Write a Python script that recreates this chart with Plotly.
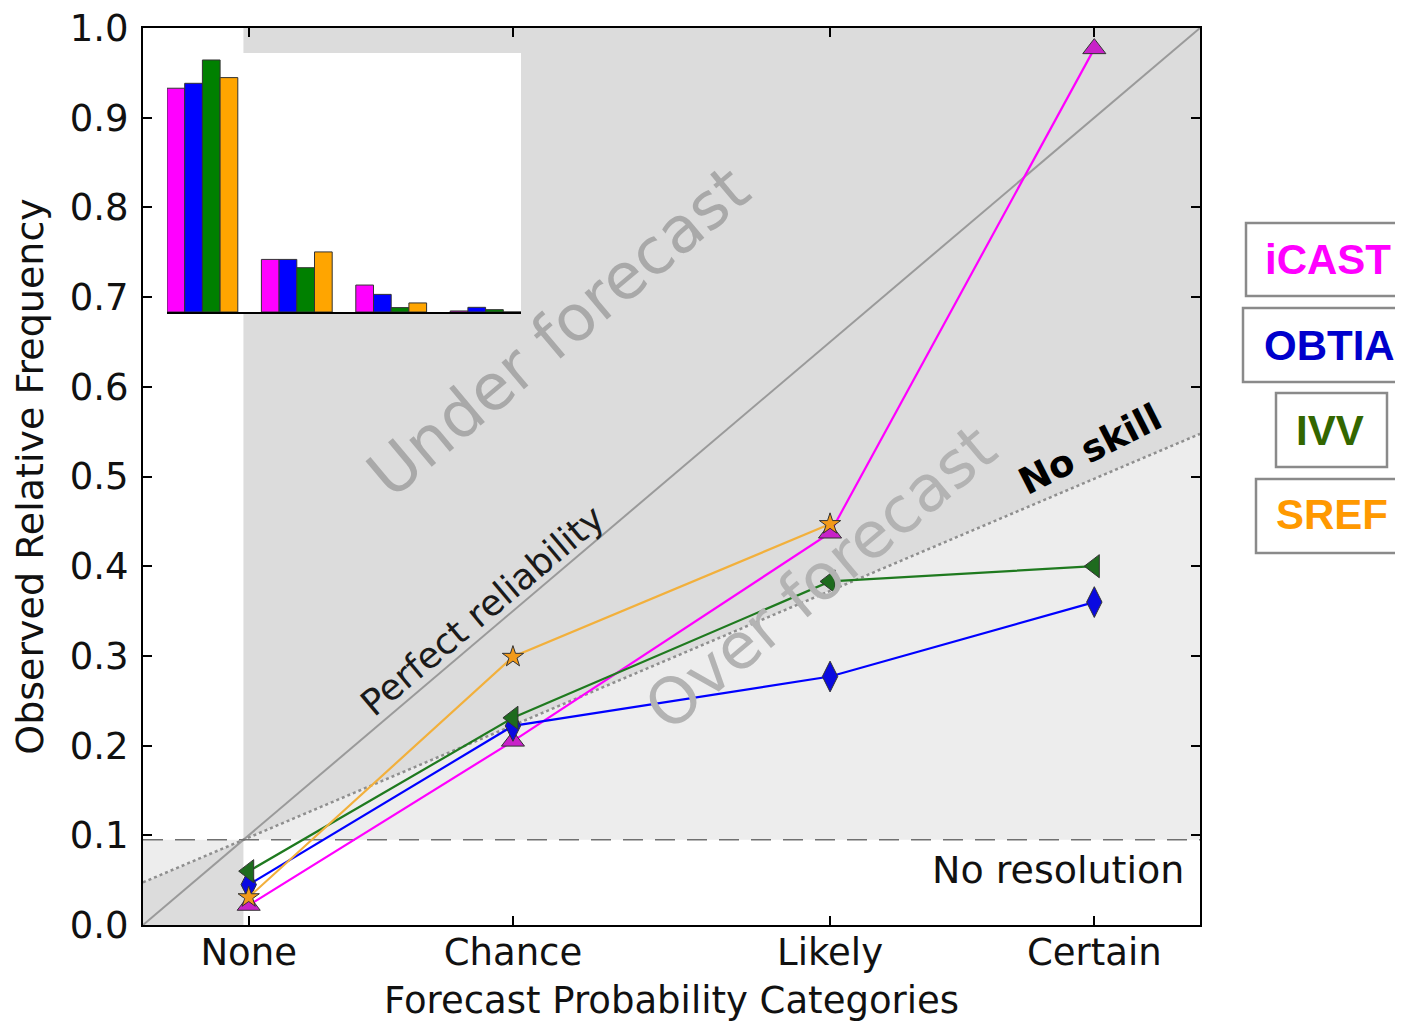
import plotly.graph_objects as go

# ---------------- data ----------------
categories = ["None", "Chance", "Likely", "Certain"]
fcst_prob = [0.1, 0.35, 0.65, 0.9]
climatology = 0.095

models = ["iCAST", "OBTIA", "IVV", "SREF"]
icast_obs = [0.022, 0.205, 0.437, 0.977]
obtia_obs = [0.045, 0.222, 0.277, 0.360]
ivv_obs = [0.060, 0.231, 0.383, 0.400]
sref_obs = [0.031, 0.299, 0.447, None]

# inset: relative frequency of forecasts in each category
icast_freq = [0.864, 0.203, 0.104, 0.004]
obtia_freq = [0.883, 0.203, 0.068, 0.018]
ivv_freq = [0.973, 0.171, 0.017, 0.009]
sref_freq = [0.905, 0.232, 0.035, 0.0]

# ---------------- layout helpers ----------------
OFF = 8  # page body margin in the browser
W, H = 1403 - OFF, 1022 - OFF
L, R, T, B = 143, 1200, 28, 925  # plot area in window pixels


def px_x(p):
    return (p - L) / (R - L)


def px_y(p):
    return (B - p) / (B - T)


FONT = "DejaVu Sans"
line_colors = ["#ff00ff", "#0000ff", "#1f7a1f", "#f2b03c"]
marker_colors = ["#c822c8", "#0a0ae0", "#1e6b1e", "#f29a1a"]
symbols = ["triangle-up", "diamond-tall", "triangle-left", "star"]
msizes = [20, 22, 20, 16]
bar_colors = ["#ff00ff", "#0000ff", "#008000", "#ffa500"]
obs_all = [icast_obs, obtia_obs, ivv_obs, sref_obs]
freq_all = [icast_freq, obtia_freq, ivv_freq, sref_freq]

fig = go.Figure()

# reference lines
nos0 = climatology / 2
nos1 = (1 + climatology) / 2
fig.add_trace(go.Scatter(x=[0, 1], y=[0, 1], mode="lines",
                         line=dict(color="#9a9a9a", width=2), showlegend=False, hoverinfo="skip"))
fig.add_trace(go.Scatter(x=[0, 1], y=[nos0, nos1], mode="lines",
                         line=dict(color="#8f8f8f", width=2.5, dash="dot"), showlegend=False, hoverinfo="skip"))
fig.add_trace(go.Scatter(x=[0, 1], y=[climatology, climatology], mode="lines",
                         line=dict(color="#707070", width=1.5, dash="20px,12px"), showlegend=False, hoverinfo="skip"))

for i, name in enumerate(models):
    fig.add_trace(go.Scatter(
        x=fcst_prob, y=obs_all[i], mode="lines+markers", name=name,
        line=dict(color=line_colors[i], width=2.2),
        marker=dict(symbol=symbols[i], size=msizes[i], color=marker_colors[i],
                    line=dict(color="#333333", width=1)),
        showlegend=False, connectgaps=False))

# inset bars
inset_x = list(range(len(categories)))
for i, name in enumerate(models):
    fig.add_trace(go.Bar(
        x=inset_x, y=freq_all[i], name=name, xaxis="x2", yaxis="y2",
        marker=dict(color=bar_colors[i], line=dict(color="#333333", width=1)),
        showlegend=False))

# shading shapes
dark = "#dcdcdc"
light = "#ededed"
shapes = [
    dict(type="path", xref="x", yref="y", layer="below", line=dict(width=0), fillcolor=dark,
         path=f"M {climatology},{climatology} L 1,{nos1} L 1,1 L {climatology},1 Z"),
    dict(type="path", xref="x", yref="y", layer="below", line=dict(width=0), fillcolor=dark,
         path=f"M 0,0 L {climatology},0 L {climatology},{climatology} L 0,{nos0} Z"),
    dict(type="path", xref="x", yref="y", layer="below", line=dict(width=0), fillcolor=light,
         path=f"M {climatology},{climatology} L 1,{climatology} L 1,{nos1} Z"),
    dict(type="path", xref="x", yref="y", layer="below", line=dict(width=0), fillcolor=light,
         path=f"M 0,{nos0} L {climatology},{climatology} L 0,{climatology} Z"),
]

# inset white background
ix0, ix1 = px_x(167), px_x(521)
iy0, iy1 = px_y(312), px_y(53)
shapes.append(dict(type="rect", xref="paper", yref="paper", layer="below",
                   x0=ix0, x1=ix1, y0=iy0, y1=iy1, fillcolor="white", line=dict(width=0)))

# legend boxes on the right
leg_boxes = [(1246, 1420, 223, 296), (1243, 1420, 308, 382), (1276, 1387, 393, 467), (1256, 1420, 479, 553)]
leg_text_pos = [(1328, 259), (1329, 345), (1330, 430), (1332, 515)]
leg_colors = ["#ff00ff", "#0000cc", "#336600", "#ff9900"]
annotations = []
for i, name in enumerate(models):
    x0, x1, y0, y1 = leg_boxes[i]
    shapes.append(dict(type="rect", xref="paper", yref="paper", layer="above",
                       x0=px_x(x0), x1=px_x(x1), y0=px_y(y1), y1=px_y(y0),
                       line=dict(color="#8a8a8a", width=2.5), fillcolor="rgba(0,0,0,0)"))
    tx, ty = leg_text_pos[i]
    annotations.append(dict(xref="paper", yref="paper", x=px_x(tx), y=px_y(ty),
                            text=f"<b>{name}</b>", showarrow=False, xanchor="center", yanchor="middle",
                            font=dict(family="Liberation Sans", size=42, color=leg_colors[i])))


# text annotations on the diagram
def ann(text, cx, cy, size, color, angle, bold=False):
    return dict(xref="paper", yref="paper", x=px_x(cx), y=px_y(cy),
                text=(f"<b>{text}</b>" if bold else text), showarrow=False,
                xanchor="center", yanchor="middle", textangle=angle,
                font=dict(family=FONT, size=size, color=color))


annotations += [
    ann("Under forecast", 558, 332, 64, "#a9a9a9", -40),
    ann("Over forecast", 820, 578, 64, "#b3b3b3", -40),
    ann("Perfect reliability", 482, 610, 36, "#1a1a1a", -40),
    ann("No skill", 1090, 449, 37, "#000000", -27, bold=True),
    ann("No resolution", 1058, 870, 38, "#111111", 0),
]

fig.update_layout(
    width=W, height=H,
    margin=dict(l=L - OFF, r=W - (R - OFF), t=T - OFF, b=H - (B - OFF), pad=0, autoexpand=False),
    paper_bgcolor="white", plot_bgcolor="white",
    font=dict(family=FONT, size=37, color="#111111"),
    barmode="group", bargap=0.25, bargroupgap=0,
    shapes=shapes, annotations=annotations,
    xaxis=dict(range=[0, 1], tickvals=fcst_prob, ticktext=categories,
               ticks="inside", ticklen=9, tickwidth=1.5, tickcolor="black",
               showline=True, linecolor="black", linewidth=2, mirror="ticks",
               showgrid=False, zeroline=False, ticklabelstandoff=-6, automargin=False,
               ticklabeloverflow="allow",
               title=dict(text="Forecast Probability Categories", standoff=14,
                          font=dict(family=FONT, size=37)),
               tickfont=dict(family=FONT, size=37)),
    yaxis=dict(range=[0, 1], tickvals=[0, 0.1, 0.2, 0.3, 0.4, 0.5, 0.6, 0.7, 0.8, 0.9, 1.0],
               tickformat=".1f",
               ticks="inside", ticklen=9, tickwidth=1.5, tickcolor="black",
               showline=True, linecolor="black", linewidth=2, mirror="ticks",
               showgrid=False, zeroline=False, ticklabelstandoff=5, automargin=False,
               ticklabeloverflow="allow",
               title=dict(text="Observed Relative Frequency", standoff=20,
                          font=dict(family=FONT, size=38)),
               tickfont=dict(family=FONT, size=37)),
    xaxis2=dict(domain=[ix0, ix1], anchor="y2", range=[-0.375, 3.375],
                showticklabels=False, ticks="", showgrid=False, zeroline=False,
                showline=True, linecolor="black", linewidth=1.5),
    yaxis2=dict(domain=[iy0, iy1], anchor="x2", range=[0, 1],
                showticklabels=False, ticks="", showgrid=False, zeroline=False, showline=False),
)

fig.write_html("out.html")
